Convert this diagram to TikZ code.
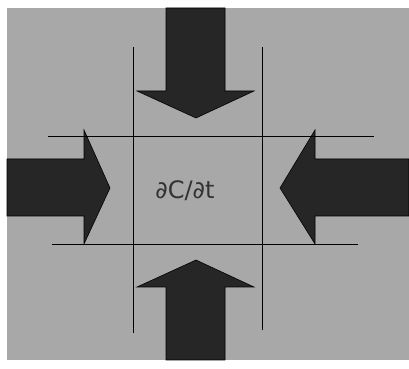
\documentclass[tikz,border=0pt]{standalone}
\usepackage{fontspec}
\setmainfont{DejaVu Sans}
\usetikzlibrary{positioning}
\definecolor{fundoCinza}{RGB}{168,168,168}
\definecolor{setaEscura}{RGB}{38,38,38}

\begin{document}
\begin{tikzpicture}[
    x=0.03cm, y=-0.03cm,
    seta/.style={fill=setaEscura, draw=black, line width=0.5pt, line join=miter},
    linha/.style={draw=black, line width=0.6pt},
    rotulo/.style={font=\fontsize{20.5}{20.5}\selectfont, text=black!80}
]
    \useasboundingbox (0,0) rectangle (409,369);
    \fill[fundoCinza] (7,8) rectangle (409,360);

    % setas
    \draw[seta] (166,8) -- (225,8) -- (225,91) -- (254,91) -- (196,118) -- (137,91) -- (166,91) -- cycle;
    \draw[seta] (166,360) -- (225,360) -- (225,287) -- (254,287) -- (196,260) -- (137,287) -- (166,287) -- cycle;
    \draw[seta] (7,159) -- (84,159) -- (84,130) -- (110,188) -- (84,244) -- (84,216) -- (7,216) -- cycle;
    \draw[seta] (409,159) -- (315,159) -- (315,130) -- (280,188) -- (315,244) -- (315,216) -- (409,216) -- cycle;

    % linhas do volume
    \draw[linha] (133,47) -- (133,333);
    \draw[linha] (262,47) -- (262,330);
    \draw[linha] (48,136) -- (374,136);
    \draw[linha] (52,244) -- (358,244);

    \node[rotulo] (taxa) at (185,191) {∂C/∂t};
\end{tikzpicture}
\end{document}
